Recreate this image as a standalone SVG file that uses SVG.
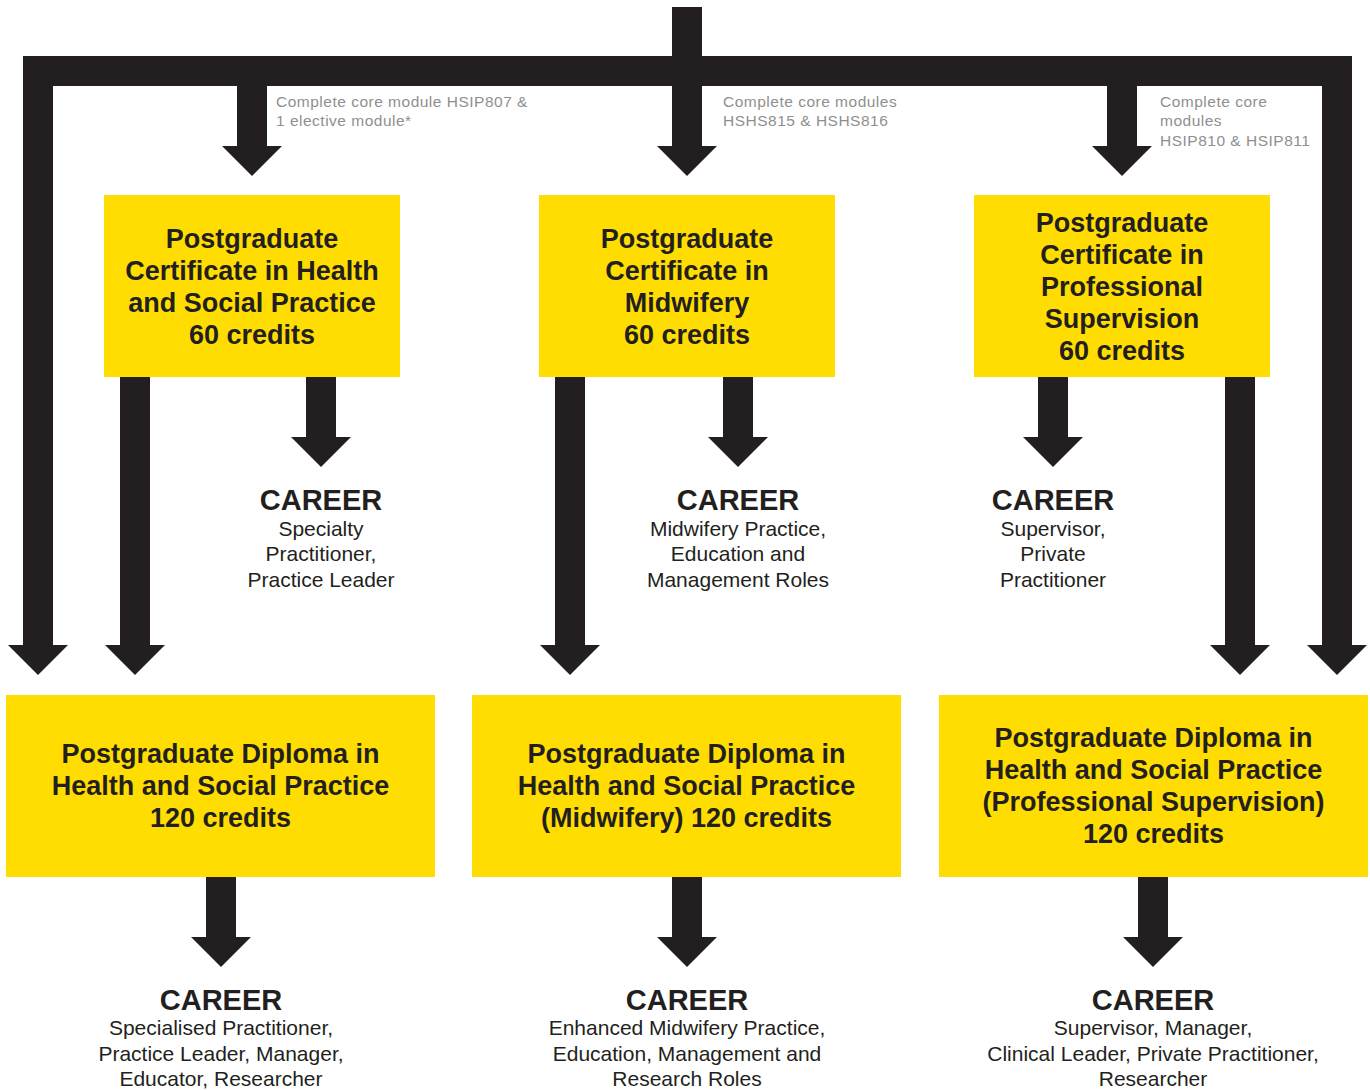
<svg xmlns="http://www.w3.org/2000/svg" width="1370" height="1090" viewBox="0 0 1370 1090">
<style>
.box{fill:#FFDD00}
.arr{fill:#231F20}
.t{font-family:"Liberation Sans",Arial,sans-serif;font-weight:bold;font-size:27px;fill:#231F20;text-anchor:middle}
.ch{font-family:"Liberation Sans",Arial,sans-serif;font-weight:bold;font-size:29px;fill:#231F20;text-anchor:middle}
.cd{font-family:"Liberation Sans",Arial,sans-serif;font-size:21px;fill:#231F20;text-anchor:middle}
.note{font-family:"Liberation Sans",Arial,sans-serif;font-size:15.5px;letter-spacing:0.5px;fill:#8F8F8F}
</style>
<rect width="1370" height="1090" fill="#FFFFFF"/>
<g id="connectors">
<path class="arr" d="M672,7 H702 V56 H1352 V645 H1367 L1337,675 L1307,645 H1322 V86 H53 V645 H68 L38,675 L8,645 H23 V56 H672 Z"/>
<path class="arr" d="M237,85 H267 V146 H282 L252,176 L222,146 H237 Z"/>
<path class="arr" d="M672,85 H702 V146 H717 L687,176 L657,146 H672 Z"/>
<path class="arr" d="M1107,85 H1137 V146 H1152 L1122,176 L1092,146 H1107 Z"/>
<path class="arr" d="M306,377 H336 V437 H351 L321,467 L291,437 H306 Z"/>
<path class="arr" d="M723,377 H753 V437 H768 L738,467 L708,437 H723 Z"/>
<path class="arr" d="M1038,377 H1068 V437 H1083 L1053,467 L1023,437 H1038 Z"/>
<path class="arr" d="M120,377 H150 V645 H165 L135,675 L105,645 H120 Z"/>
<path class="arr" d="M555,377 H585 V645 H600 L570,675 L540,645 H555 Z"/>
<path class="arr" d="M1225,377 H1255 V645 H1270 L1240,675 L1210,645 H1225 Z"/>
<path class="arr" d="M206,877 H236 V937 H251 L221,967 L191,937 H206 Z"/>
<path class="arr" d="M672,877 H702 V937 H717 L687,967 L657,937 H672 Z"/>
<path class="arr" d="M1138,877 H1168 V937 H1183 L1153,967 L1123,937 H1138 Z"/>
</g>
<g id="notes">
<text class="note" x="276" y="107">Complete core module HSIP807 &amp;</text>
<text class="note" x="276" y="126">1 elective module*</text>
<text class="note" x="723" y="107">Complete core modules</text>
<text class="note" x="723" y="126">HSHS815 &amp; HSHS816</text>
<text class="note" x="1160" y="107">Complete core</text>
<text class="note" x="1160" y="126">modules</text>
<text class="note" x="1160" y="146">HSIP810 &amp; HSIP811</text>
</g>
<g id="pgcert-hsp">
<rect class="box" x="104" y="195" width="296" height="182"/>
<text class="t" x="252" y="248">Postgraduate</text>
<text class="t" x="252" y="280">Certificate in Health</text>
<text class="t" x="252" y="312">and Social Practice</text>
<text class="t" x="252" y="344">60 credits</text>
</g>
<g id="pgcert-midwifery">
<rect class="box" x="539" y="195" width="296" height="182"/>
<text class="t" x="687" y="248">Postgraduate</text>
<text class="t" x="687" y="280">Certificate in</text>
<text class="t" x="687" y="312">Midwifery</text>
<text class="t" x="687" y="344">60 credits</text>
</g>
<g id="pgcert-supervision">
<rect class="box" x="974" y="195" width="296" height="182"/>
<text class="t" x="1122" y="232">Postgraduate</text>
<text class="t" x="1122" y="264">Certificate in</text>
<text class="t" x="1122" y="296">Professional</text>
<text class="t" x="1122" y="328">Supervision</text>
<text class="t" x="1122" y="360">60 credits</text>
</g>
<g id="career-1">
<text class="ch" x="321" y="510">CAREER</text>
<text class="cd" x="321" y="536">Specialty</text>
<text class="cd" x="321" y="561">Practitioner,</text>
<text class="cd" x="321" y="587">Practice Leader</text>
</g>
<g id="career-2">
<text class="ch" x="738" y="510">CAREER</text>
<text class="cd" x="738" y="536">Midwifery Practice,</text>
<text class="cd" x="738" y="561">Education and</text>
<text class="cd" x="738" y="587">Management Roles</text>
</g>
<g id="career-3">
<text class="ch" x="1053" y="510">CAREER</text>
<text class="cd" x="1053" y="536">Supervisor,</text>
<text class="cd" x="1053" y="561">Private</text>
<text class="cd" x="1053" y="587">Practitioner</text>
</g>
<g id="pgdip-hsp">
<rect class="box" x="6" y="695" width="429" height="182"/>
<text class="t" x="220.5" y="763">Postgraduate Diploma in</text>
<text class="t" x="220.5" y="795">Health and Social Practice</text>
<text class="t" x="220.5" y="827">120 credits</text>
</g>
<g id="pgdip-midwifery">
<rect class="box" x="472" y="695" width="429" height="182"/>
<text class="t" x="686.5" y="763">Postgraduate Diploma in</text>
<text class="t" x="686.5" y="795">Health and Social Practice</text>
<text class="t" x="686.5" y="827">(Midwifery) 120 credits</text>
</g>
<g id="pgdip-supervision">
<rect class="box" x="939" y="695" width="429" height="182"/>
<text class="t" x="1153.5" y="747">Postgraduate Diploma in</text>
<text class="t" x="1153.5" y="779">Health and Social Practice</text>
<text class="t" x="1153.5" y="811">(Professional Supervision)</text>
<text class="t" x="1153.5" y="843">120 credits</text>
</g>
<g id="career-4">
<text class="ch" x="221" y="1010">CAREER</text>
<text class="cd" x="221" y="1035">Specialised Practitioner,</text>
<text class="cd" x="221" y="1061">Practice Leader, Manager,</text>
<text class="cd" x="221" y="1086">Educator, Researcher</text>
</g>
<g id="career-5">
<text class="ch" x="687" y="1010">CAREER</text>
<text class="cd" x="687" y="1035">Enhanced Midwifery Practice,</text>
<text class="cd" x="687" y="1061">Education, Management and</text>
<text class="cd" x="687" y="1086">Research Roles</text>
</g>
<g id="career-6">
<text class="ch" x="1153" y="1010">CAREER</text>
<text class="cd" x="1153" y="1035">Supervisor, Manager,</text>
<text class="cd" x="1153" y="1061">Clinical Leader, Private Practitioner,</text>
<text class="cd" x="1153" y="1086">Researcher</text>
</g>
</svg>
